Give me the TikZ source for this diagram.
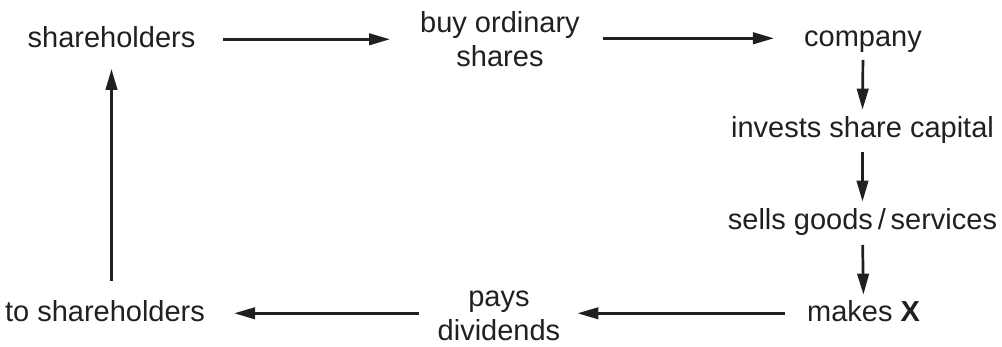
\documentclass[tikz,border=0pt]{standalone}
\usepackage{fontspec}
\setmainfont{Liberation Sans}
\usepackage{tikz}
\usetikzlibrary{arrows.meta,positioning}
\definecolor{ink}{HTML}{231F20}

\tikzset{
	lbl/.style={inner sep=0pt, text=ink, font=\fontsize{29}{34}\selectfont, align=center},
	line/.style={lbl, anchor=base, text height=23.2pt, text depth=5.8pt},
	flow/.style={draw=ink, line width=2.7pt, -{Triangle[length=21pt,width=11.5pt]}},
}

\begin{document}
\begin{tikzpicture}[x=1pt,y=1pt]
	\useasboundingbox (0,0) rectangle (1002,347);
	
	\node[line] (sh) at (111.5,299) {shareholders};
	\node[lbl] (buy) at (500,308) {buy ordinary\\shares};
	\node[line] (co) at (863,300) {company};
	\node[line] (inv) at (862.5,209) {invests share capital};
	\node[line] (sells) at (862.5,117) {sells goods\,/\,services};
	\node[line] (makes) at (863.5,25) {makes \textbf{X}};
	\node[lbl] (pays) at (499,31.5) {pays\\dividends};
	\node[line] (tosh) at (105,25) {to shareholders};
	
	\draw[flow, shorten <=27pt, shorten >=30pt] (sh.east) -- (sh.east -| buy.west);
	\draw[flow, shorten <=23pt, shorten >=30pt] (buy.east |- co.west) -- (co.west);
	
	\draw[flow, shorten <=7pt, shorten >=5pt] (co.south) -- (inv.north);
	\draw[flow, shorten <=8pt, shorten >=5pt] (inv.south) -- (sells.north);
	\draw[flow, shorten <=9pt, shorten >=4pt] (sells.south) -- (makes.north);
	
	\draw[flow, shorten <=22pt, shorten >=17pt] (makes.west) -- (makes.west -| pays.east);
	\draw[flow, shorten <=19pt, shorten >=29pt] (pays.west |- tosh.east) -- (tosh.east);
	\draw[flow, shorten <=18pt, shorten >=15pt] (tosh.north -| sh.south) -- (sh.south);
	
\end{tikzpicture}
\end{document}
